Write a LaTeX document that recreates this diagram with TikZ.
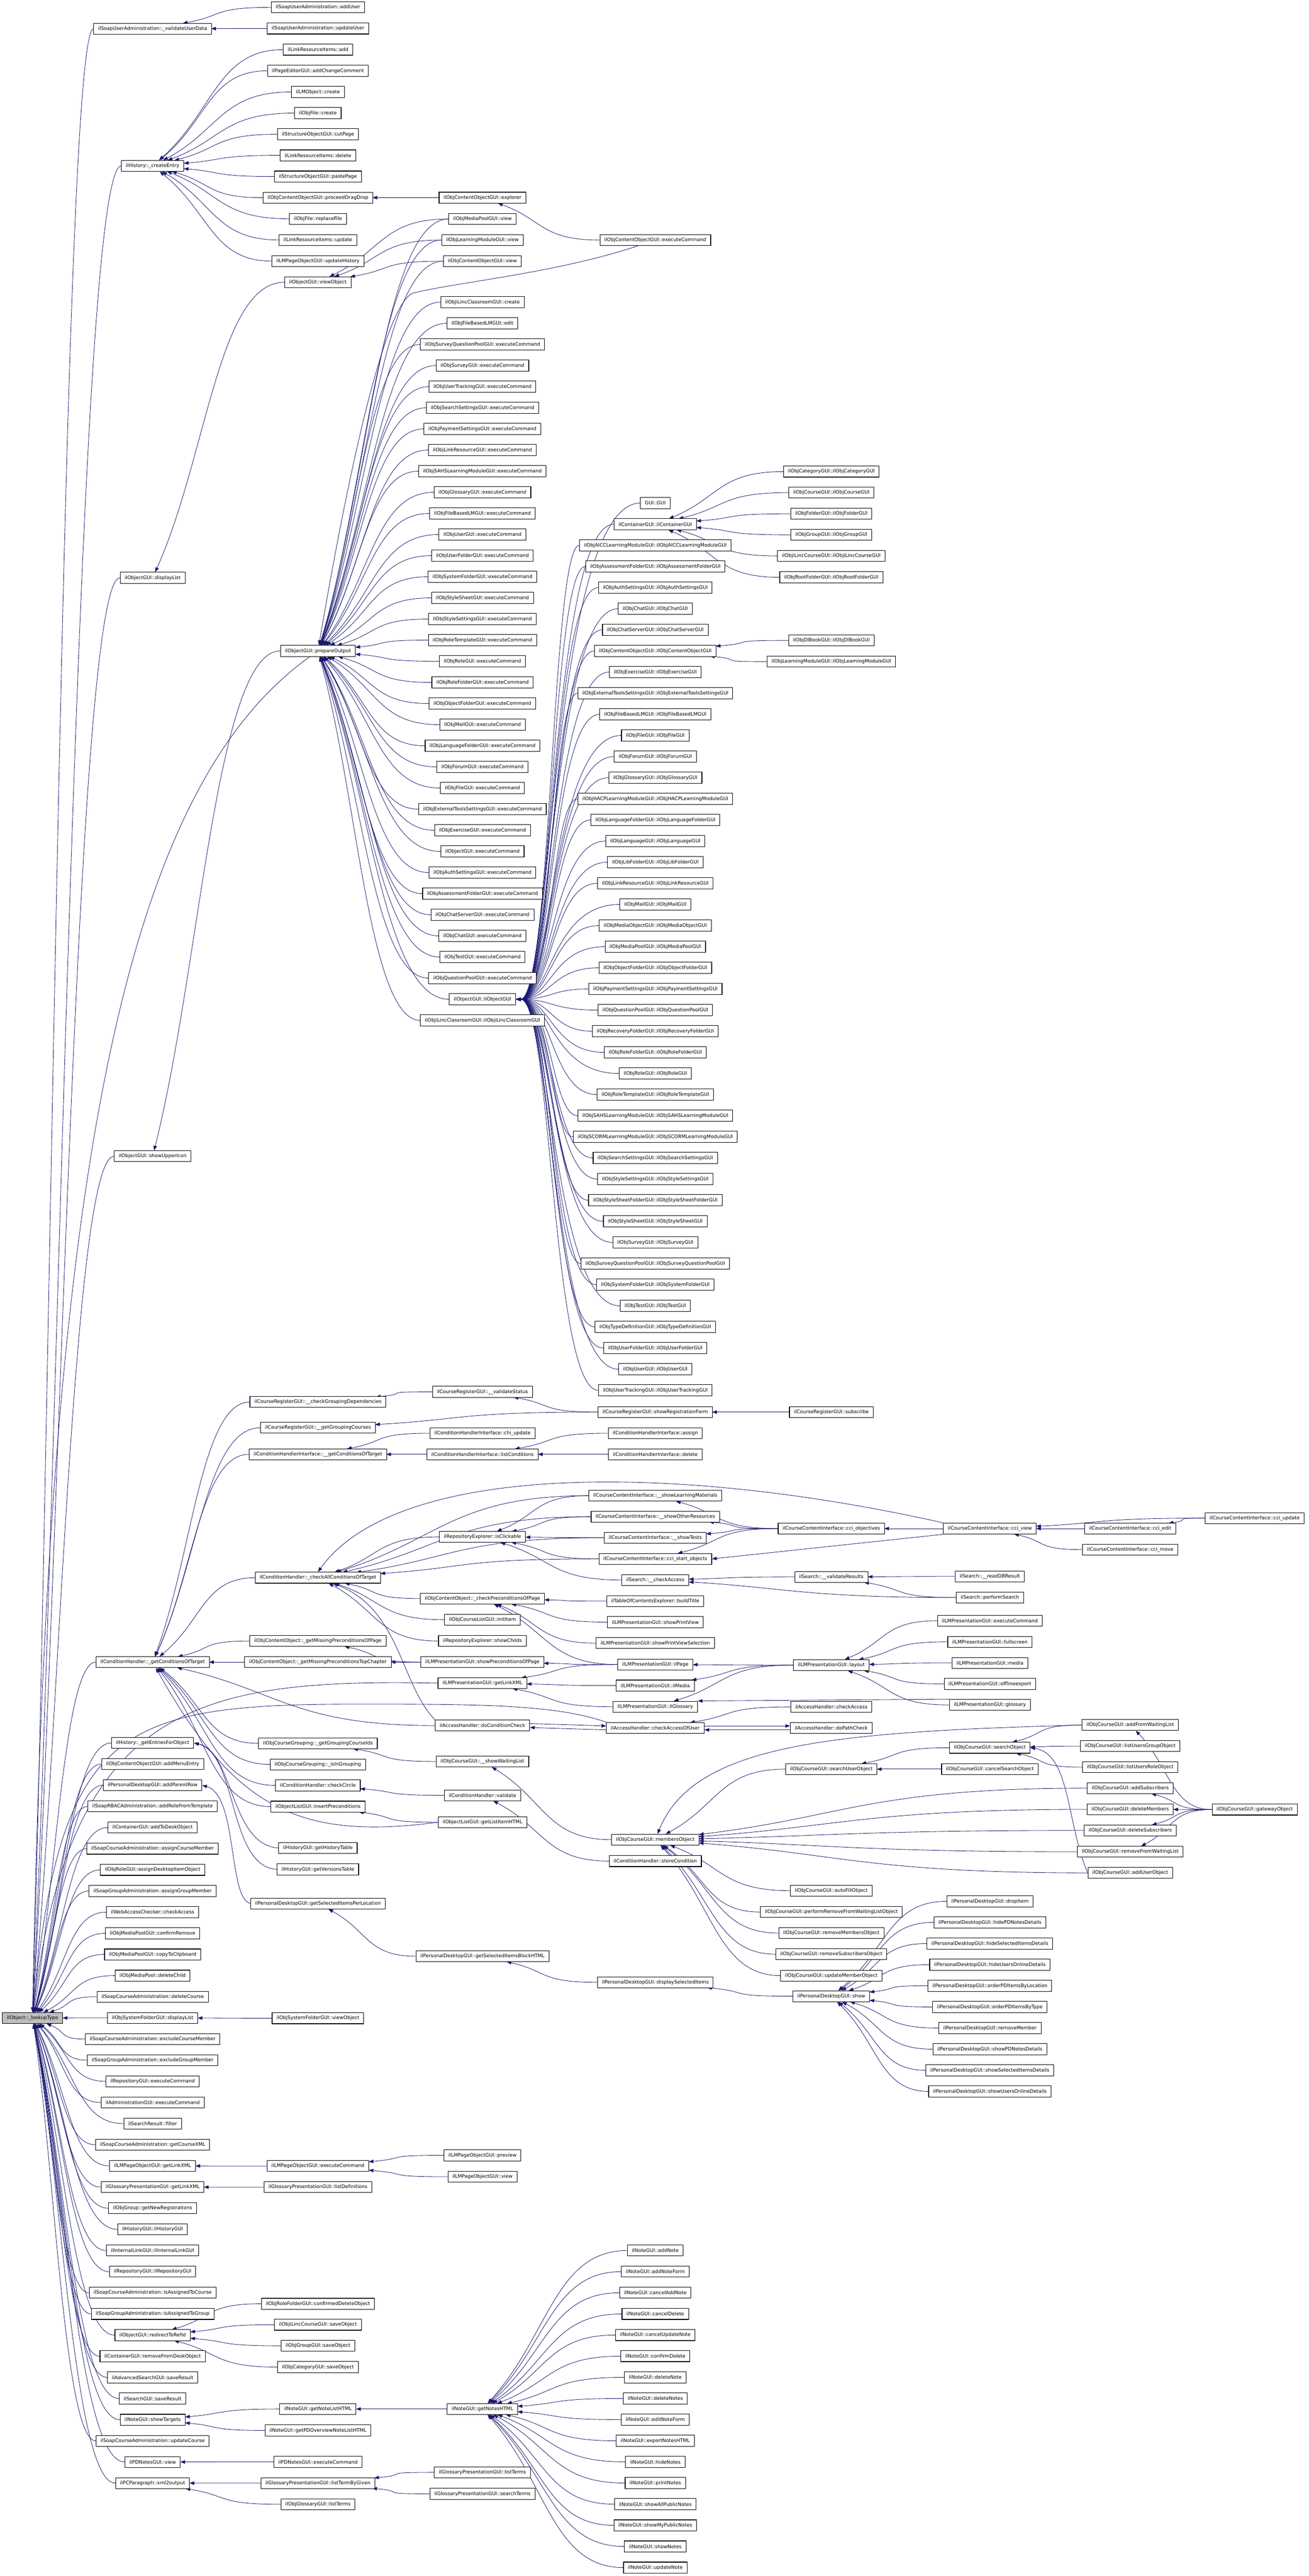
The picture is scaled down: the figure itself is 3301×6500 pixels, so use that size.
\documentclass[tikz,border=0pt]{standalone}
\usepackage{fontspec}
\setmainfont{DejaVu Sans}
\usetikzlibrary{calc,arrows.meta}
\definecolor{edgeblue}{RGB}{25,25,112}
\definecolor{rootgray}{RGB}{191,191,191}
\pgfdeclarelayer{bg}
\pgfsetlayers{bg,main}
\tikzset{
  box/.style={draw=black,fill=white,line width=0.7pt,minimum height=13.8pt,inner xsep=5.6pt,inner ysep=0pt,font=\fontsize{6.1}{7}\selectfont},
  rootbox/.style={box,fill=rootgray},
  edge/.style={draw=edgeblue,line width=0.55pt,-{Triangle[length=6pt,width=4.4pt]}}
}
% generic connector: leaves the caller's west side horizontally, reaches the callee's border heading to its centre
\newcommand\ed[2]{\draw[edge] let \p1=(#1.west),\p2=(#2.center),\p3=(#2.north east) in
  \pgfextra{%
    \pgfmathparse{atan2((\y1-\y2)/10,(\x1-\x2)/10)}\xdef\edA{\pgfmathresult}%
    \pgfmathparse{cos(\edA)}\xdef\edc{\pgfmathresult}%
    \pgfmathparse{sin(\edA)}\xdef\eds{\pgfmathresult}%
    \pgfmathparse{min((\x3-\x2)/(abs(\edc)+0.01),(\y3-\y2)/(abs(\eds)+0.01))}\xdef\edt{\pgfmathresult}%
    \pgfmathparse{\x2+\edt*\edc}\xdef\edEx{\pgfmathresult}%
    \pgfmathparse{\y2+\edt*\eds}\xdef\edEy{\pgfmathresult}%
    \pgfmathparse{\x1-max(0.5*(\x1-\x2),4)}\xdef\edPx{\pgfmathresult}%
    \pgfmathparse{0.3*(abs(\x1-\x2)+abs(\y1-\y2))}\xdef\edC{\pgfmathresult}%
    \pgfmathparse{\edEx+\edC*\edc}\xdef\edQx{\pgfmathresult}%
    \pgfmathparse{\edEy+\edC*\eds}\xdef\edQy{\pgfmathresult}%
  }
  (\p1) .. controls (\edPx pt,\y1) and (\edQx pt,\edQy pt) .. (\edEx pt,\edEy pt);}
\newcommand\edv[2]{\draw[edge] let \p1=(#1.west),\p2=(#2.east) in (\p1) .. controls (\x2+45pt,\y1) and (\x2+45pt,\y2) .. (\p2);}
\begin{document}
\begin{tikzpicture}[x=0.5pt,y=-0.5pt]
\useasboundingbox (0,0) rectangle (3301,6500);
% ---------- column A ----------
\node[rootbox] (root) at (82,5092) {ilObject::\_lookupType};
% ---------- column B ----------
\node[box] (valUD) at (385,72.5) {ilSoapUserAdministration::\_validateUserData};
\node[box] (hist) at (385,418.6) {ilHistory::\_createEntry};
\node[box] (dlist) at (385,1458) {ilObjectGUI::displayList};
\node[box] (upicon) at (385,2917.5) {ilObjectGUI::showUpperIcon};
\node[box] (gcot) at (385,4194) {ilConditionHandler::\_getConditionsOfTarget};
\foreach \lab [count=\i] in {ilHistory::\_getEntriesForObject,ilObjContentObjectGUI::addMenuEntry,ilPersonalDesktopGUI::addParentRow,ilSoapRBACAdministration::addRoleFromTemplate,ilContainerGUI::addToDeskObject,ilSoapCourseAdministration::assignCourseMember,ilObjRoleGUI::assignDesktopItemObject,ilSoapGroupAdministration::assignGroupMember,ilWebAccessChecker::checkAccess,ilObjMediaPoolGUI::confirmRemove,ilObjMediaPoolGUI::copyToClipboard,ilObjMediaPool::deleteChild,ilSoapCourseAdministration::deleteCourse,ilObjSystemFolderGUI::displayList,ilSoapCourseAdministration::excludeCourseMember,ilSoapGroupAdministration::excludeGroupMember,ilRepositoryGUI::executeCommand,ilAdministrationGUI::executeCommand,ilSearchResult::filter,ilSoapCourseAdministration::getCourseXML,ilLMPageObjectGUI::getLinkXML,ilGlossaryPresentationGUI::getLinkXML,ilObjGroup::getNewRegistrations,ilHistoryGUI::ilHistoryGUI,ilInternalLinkGUI::ilInternalLinkGUI,ilRepositoryGUI::ilRepositoryGUI,ilSoapCourseAdministration::isAssignedToCourse,ilSoapGroupAdministration::isAssignedToGroup,ilObjectGUI::redirectToRefId,ilContainerGUI::removeFromDeskObject,ilAdvancedSearchGUI::saveResult,ilSearchGUI::saveResult,ilNoteGUI::showTargets,ilSoapCourseAdministration::updateCourse,ilPDNotesGUI::view,ilPCParagraph::xml2output}
  {\node[box] (bb\i) at (385,{4398+53.36*(\i-1)}) {\lab};}
% ---------- column C ----------
\foreach \lab [count=\i from 0] in {ilSoapUserAdministration::addUser,ilSoapUserAdministration::updateUser,ilLinkResourceItems::add,ilPageEditorGUI::addChangeComment,ilLMObject::create,ilObjFile::create,ilStructureObjectGUI::cutPage,ilLinkResourceItems::delete,ilStructureObjectGUI::pastePage,ilObjContentObjectGUI::proceedDragDrop,ilObjFile::replaceFile,ilLinkResourceItems::update,ilLMPageObjectGUI::updateHistory,ilObjectGUI::viewObject}
  {\node[box] (c\i) at (802,{18.6+53.35*\i}) {\lab};}
\node[box] (prep) at (802,1642.5) {ilObjectGUI::prepareOutput};
\node[box] (cgd) at (802,3537.7) {ilCourseRegisterGUI::\_\_checkGroupingDependencies};
\node[box] (cggc) at (802,3602.6) {ilCourseRegisterGUI::\_\_getGroupingCourses};
\node[box] (chigc) at (802,3669.6) {ilConditionHandlerInterface::\_\_getConditionsOfTarget};
\node[box] (cca) at (802,3981) {ilConditionHandler::\_checkAllConditionsOfTarget};
\node[box] (cmpp) at (802,4140.7) {ilObjContentObject::\_getMissingPreconditionsOfPage};
\node[box] (cmtc) at (802,4194) {ilObjContentObject::\_getMissingPreconditionsTopChapter};
\node[box] (cgci) at (802,4399) {ilObjCourseGrouping::\_getGroupingCourseIds};
\node[box] (cisg) at (802,4452) {ilObjCourseGrouping::\_isInGrouping};
\node[box] (ccc) at (802,4505) {ilConditionHandler::checkCircle};
\node[box] (cipr) at (802,4558.5) {ilObjectListGUI::insertPreconditions};
\node[box] (cght) at (802,4663) {ilHistoryGUI::getHistoryTable};
\node[box] (cgvt) at (802,4717) {ilHistoryGUI::getVersionsTable};
\node[box] (cgsl) at (802,4803) {ilPersonalDesktopGUI::getSelectedItemsPerLocation};
\node[box] (csfv) at (802,5092.5) {ilObjSystemFolderGUI::viewObject};
\node[box] (clpe) at (802,5465.5) {ilLMPageObjectGUI::executeCommand};
\node[box] (cgld) at (802,5518.8) {ilGlossaryPresentationGUI::listDefinitions};
\node[box] (ccdo) at (802,5813) {ilObjRoleFolderGUI::confirmedDeleteObject};
\node[box] (ciso) at (802,5866) {ilObjiLincCourseGUI::saveObject};
\node[box] (cgso) at (802,5919) {ilObjGroupGUI::saveObject};
\node[box] (ccso) at (802,5972.8) {ilObjCategoryGUI::saveObject};
\node[box] (cgnl) at (802,6078.6) {ilNoteGUI::getNoteListHTML};
\node[box] (cgpd) at (802,6132.6) {ilNoteGUI::getPDOverviewNoteListHTML};
\node[box] (cpdn) at (802,6212) {ilPDNotesGUI::executeCommand};
\node[box] (cltg) at (802,6265.5) {ilGlossaryPresentationGUI::listTermByGiven};
\node[box] (cogl) at (802,6319) {ilObjGlossaryGUI::listTerms};
% ---------- column D ----------
\node[box] (dexp) at (1217,498.7) {ilObjContentObjectGUI::explorer};
\node[box] (dmpv) at (1217,552.6) {ilObjMediaPoolGUI::view};
\node[box] (dlmv) at (1217,605.7) {ilObjLearningModuleGUI::view};
\node[box] (dcov) at (1217,659) {ilObjContentObjectGUI::view};
\foreach \lab [count=\i from 0] in {ilObjiLincClassroomGUI::create,ilObjFileBasedLMGUI::edit,ilObjSurveyQuestionPoolGUI::executeCommand,ilObjSurveyGUI::executeCommand,ilObjUserTrackingGUI::executeCommand,ilObjSearchSettingsGUI::executeCommand,ilObjPaymentSettingsGUI::executeCommand,ilObjLinkResourceGUI::executeCommand,ilObjSAHSLearningModuleGUI::executeCommand,ilObjGlossaryGUI::executeCommand,ilObjFileBasedLMGUI::executeCommand,ilObjUserGUI::executeCommand,ilObjUserFolderGUI::executeCommand,ilObjSystemFolderGUI::executeCommand,ilObjStyleSheetGUI::executeCommand,ilObjStyleSettingsGUI::executeCommand,ilObjRoleTemplateGUI::executeCommand,ilObjRoleGUI::executeCommand,ilObjRoleFolderGUI::executeCommand,ilObjObjectFolderGUI::executeCommand,ilObjMailGUI::executeCommand,ilObjLanguageFolderGUI::executeCommand,ilObjForumGUI::executeCommand,ilObjFileGUI::executeCommand,ilObjExternalToolsSettingsGUI::executeCommand,ilObjExerciseGUI::executeCommand,ilObjectGUI::executeCommand,ilObjAuthSettingsGUI::executeCommand,ilObjAssessmentFolderGUI::executeCommand,ilObjChatServerGUI::executeCommand,ilObjChatGUI::executeCommand,ilObjTestGUI::executeCommand,ilObjQuestionPoolGUI::executeCommand,ilObjectGUI::ilObjectGUI,ilObjiLincClassroomGUI::ilObjiLincClassroomGUI}
  {\node[box] (dj\i) at (1217,{762.5+53.3*\i}) {\lab};}
\node[box] (dvs) at (1217,3512) {ilCourseRegisterGUI::\_\_validateStatus};
\node[box] (dchiu) at (1217,3616.5) {ilConditionHandlerInterface::chi\_update};
\node[box] (dlc) at (1217,3669.6) {ilConditionHandlerInterface::listConditions};
\node[box] (disc) at (1217,3878) {ilRepositoryExplorer::isClickable};
\node[box] (dcpp) at (1217,4033.6) {ilObjContentObject::\_checkPreconditionsOfPage};
\node[box] (dinit) at (1217,4087) {ilObjCourseListGUI::initItem};
\node[box] (dsch) at (1217,4140.7) {ilRepositoryExplorer::showChilds};
\node[box] (dspp) at (1217,4194) {ilLMPresentationGUI::showPreconditionsOfPage};
\node[box] (dglx) at (1217,4247) {ilLMPresentationGUI::getLinkXML};
\node[box] (ddcc) at (1217,4354) {ilAccessHandler::doConditionCheck};
\node[box] (dsw) at (1217,4444.6) {ilObjCourseGUI::\_\_showWaitingList};
\node[box] (dval) at (1217,4530) {ilConditionHandler::validate};
\node[box] (dglih) at (1217,4598) {ilObjectListGUI::getListItemHTML};
\node[box] (dgsib) at (1217,4936) {ilPersonalDesktopGUI::getSelectedItemsBlockHTML};
\node[box] (dlpre) at (1217,5438.5) {ilLMPageObjectGUI::preview};
\node[box] (dlview) at (1217,5492.5) {ilLMPageObjectGUI::view};
\node[box] (dgnh) at (1217,6078.6) {ilNoteGUI::getNotesHTML};
\node[box] (dglt) at (1217,6238.5) {ilGlossaryPresentationGUI::listTerms};
\node[box] (dgst) at (1217,6292.5) {ilGlossaryPresentationGUI::searchTerms};
% ---------- column E ----------
\node[box] (ecoec) at (1653,605.7) {ilObjContentObjectGUI::executeCommand};
\foreach \lab [count=\i from 0] in {GUI::GUI,ilContainerGUI::ilContainerGUI,ilObjAICCLearningModuleGUI::ilObjAICCLearningModuleGUI,ilObjAssessmentFolderGUI::ilObjAssessmentFolderGUI,ilObjAuthSettingsGUI::ilObjAuthSettingsGUI,ilObjChatGUI::ilObjChatGUI,ilObjChatServerGUI::ilObjChatServerGUI,ilObjContentObjectGUI::ilObjContentObjectGUI,ilObjExerciseGUI::ilObjExerciseGUI,ilObjExternalToolsSettingsGUI::ilObjExternalToolsSettingsGUI,ilObjFileBasedLMGUI::ilObjFileBasedLMGUI,ilObjFileGUI::ilObjFileGUI,ilObjForumGUI::ilObjForumGUI,ilObjGlossaryGUI::ilObjGlossaryGUI,ilObjHACPLearningModuleGUI::ilObjHACPLearningModuleGUI,ilObjLanguageFolderGUI::ilObjLanguageFolderGUI,ilObjLanguageGUI::ilObjLanguageGUI,ilObjLibFolderGUI::ilObjLibFolderGUI,ilObjLinkResourceGUI::ilObjLinkResourceGUI,ilObjMailGUI::ilObjMailGUI,ilObjMediaObjectGUI::ilObjMediaObjectGUI,ilObjMediaPoolGUI::ilObjMediaPoolGUI,ilObjObjectFolderGUI::ilObjObjectFolderGUI,ilObjPaymentSettingsGUI::ilObjPaymentSettingsGUI,ilObjQuestionPoolGUI::ilObjQuestionPoolGUI,ilObjRecoveryFolderGUI::ilObjRecoveryFolderGUI,ilObjRoleFolderGUI::ilObjRoleFolderGUI,ilObjRoleGUI::ilObjRoleGUI,ilObjRoleTemplateGUI::ilObjRoleTemplateGUI,ilObjSAHSLearningModuleGUI::ilObjSAHSLearningModuleGUI,ilObjSCORMLearningModuleGUI::ilObjSCORMLearningModuleGUI,ilObjSearchSettingsGUI::ilObjSearchSettingsGUI,ilObjStyleSettingsGUI::ilObjStyleSettingsGUI,ilObjStyleSheetFolderGUI::ilObjStyleSheetFolderGUI,ilObjStyleSheetGUI::ilObjStyleSheetGUI,ilObjSurveyGUI::ilObjSurveyGUI,ilObjSurveyQuestionPoolGUI::ilObjSurveyQuestionPoolGUI,ilObjSystemFolderGUI::ilObjSystemFolderGUI,ilObjTestGUI::ilObjTestGUI,ilObjTypeDefinitionGUI::ilObjTypeDefinitionGUI,ilObjUserFolderGUI::ilObjUserFolderGUI,ilObjUserGUI::ilObjUserGUI,ilObjUserTrackingGUI::ilObjUserTrackingGUI}
  {\node[box] (e\i) at (1653,{1269.5+53.3*\i}) {\lab};}
\node[box] (esrf) at (1653,3563) {ilCourseRegisterGUI::showRegistrationForm};
\node[box] (easg) at (1653,3616.5) {ilConditionHandlerInterface::assign};
\node[box] (edel) at (1653,3669.6) {ilConditionHandlerInterface::delete};
\node[box] (eslm) at (1653,3774) {ilCourseContentInterface::\_\_showLearningMaterials};
\node[box] (esor) at (1653,3827) {ilCourseContentInterface::\_\_showOtherResources};
\node[box] (est) at (1653,3880) {ilCourseContentInterface::\_\_showTests};
\node[box] (ecso) at (1653,3933.5) {ilCourseContentInterface::cci\_start\_objects};
\node[box] (esca) at (1653,3986.7) {ilSearch::\_\_checkAccess};
\node[box] (ebt) at (1653,4040) {ilTableOfContentsExplorer::buildTitle};
\node[box] (espv) at (1653,4093) {ilLMPresentationGUI::showPrintView};
\node[box] (espvs) at (1653,4146) {ilLMPresentationGUI::showPrintViewSelection};
\node[box] (eilp) at (1653,4200) {ilLMPresentationGUI::ilPage};
\node[box] (eilm) at (1653,4253) {ilLMPresentationGUI::ilMedia};
\node[box] (eilg) at (1653,4306.5) {ilLMPresentationGUI::ilGlossary};
\node[box] (ecau) at (1653,4360) {ilAccessHandler::checkAccessOfUser};
\node[box] (emo) at (1653,4642) {ilObjCourseGUI::membersObject};
\node[box] (esc) at (1653,4696) {ilConditionHandler::storeCondition};
\node[box] (edsi) at (1653,5002) {ilPersonalDesktopGUI::displaySelectedItems};
\foreach \lab [count=\i] in {addNote,addNoteForm,cancelAddNote,cancelDelete,cancelUpdateNote,confirmDelete,deleteNote,deleteNotes,editNoteForm,exportNotesHTML,hideNotes,printNotes,showAllPublicNotes,showMyPublicNotes,showNotes,updateNote}
  {\node[box] (en\i) at (1653,{5678.7+53.33*(\i-1)}) {ilNoteGUI::\lab};}
% ---------- column F ----------
\node[box] (f1) at (2097,1190) {ilObjCategoryGUI::ilObjCategoryGUI};
\node[box] (f2) at (2097,1243) {ilObjCourseGUI::ilObjCourseGUI};
\node[box] (f3) at (2097,1296.4) {ilObjFolderGUI::ilObjFolderGUI};
\node[box] (f4) at (2097,1349.6) {ilObjGroupGUI::ilObjGroupGUI};
\node[box] (f5) at (2097,1402.8) {ilObjiLincCourseGUI::ilObjiLincCourseGUI};
\node[box] (f6) at (2097,1456.7) {ilObjRootFolderGUI::ilObjRootFolderGUI};
\node[box] (f7) at (2097,1616) {ilObjDlBookGUI::ilObjDlBookGUI};
\node[box] (f8) at (2097,1669.4) {ilObjLearningModuleGUI::ilObjLearningModuleGUI};
\node[box] (fsub) at (2097,3563) {ilCourseRegisterGUI::subscribe};
\node[box] (fcob) at (2097,3857) {ilCourseContentInterface::cci\_objectives};
\node[box] (fvr) at (2097,3979) {ilSearch::\_\_validateResults};
\node[box] (flay) at (2097,4201.5) {ilLMPresentationGUI::layout};
\node[box] (fca) at (2097,4307) {ilAccessHandler::checkAccess};
\node[box] (fdpc) at (2097,4360) {ilAccessHandler::doPathCheck};
\node[box] (fsuo) at (2097,4464) {ilObjCourseGUI::searchUserObject};
\node[box] (faf) at (2097,4770.6) {ilObjCourseGUI::autoFillObject};
\node[box] (fprw) at (2097,4824.5) {ilObjCourseGUI::performRemoveFromWaitingListObject};
\node[box] (frmo) at (2097,4877.6) {ilObjCourseGUI::removeMembersObject};
\node[box] (frso) at (2097,4931) {ilObjCourseGUI::removeSubscribersObject};
\node[box] (fumo) at (2097,4985) {ilObjCourseGUI::updateMemberObject};
\node[box] (fshow) at (2097,5037) {ilPersonalDesktopGUI::show};
% ---------- column G ----------
\node[box] (gview) at (2497,3857) {ilCourseContentInterface::cci\_view};
\node[box] (grdb) at (2497,3977.7) {ilSearch::\_\_readDBResult};
\node[box] (gps) at (2497,4031) {ilSearch::performSearch};
\node[box] (gec) at (2497,4089.6) {ilLMPresentationGUI::executeCommand};
\node[box] (gfs) at (2497,4142.8) {ilLMPresentationGUI::fullscreen};
\node[box] (gmed) at (2497,4196) {ilLMPresentationGUI::media};
\node[box] (goff) at (2497,4249) {ilLMPresentationGUI::offlineexport};
\node[box] (gglo) at (2497,4302) {ilLMPresentationGUI::glossary};
\node[box] (gso) at (2497,4410) {ilObjCourseGUI::searchObject};
\node[box] (gcso) at (2497,4464) {ilObjCourseGUI::cancelSearchObject};
\foreach \lab [count=\i] in {dropItem,hidePDNotesDetails,hideSelectedItemsDetails,hideUsersOnlineDetails,orderPDItemsByLocation,orderPDItemsByType,removeMember,showPDNotesDetails,showSelectedItemsDetails,showUsersOnlineDetails}
  {\node[box] (gp\i) at (2497,{4797.5+53.3*(\i-1)}) {ilPersonalDesktopGUI::\lab};}
% ---------- column H ----------
\node[box] (hedit) at (2851,3857) {ilCourseContentInterface::cci\_edit};
\node[box] (hmove) at (2851,3910) {ilCourseContentInterface::cci\_move};
\node[box] (hafw) at (2851,4352.7) {ilObjCourseGUI::addFromWaitingList};
\node[box] (hlug) at (2851,4406) {ilObjCourseGUI::listUsersGroupObject};
\node[box] (hlur) at (2851,4459) {ilObjCourseGUI::listUsersRoleObject};
\node[box] (has) at (2851,4512) {ilObjCourseGUI::addSubscribers};
\node[box] (hdm) at (2851,4565.5) {ilObjCourseGUI::deleteMembers};
\node[box] (hds) at (2851,4618.6) {ilObjCourseGUI::deleteSubscribers};
\node[box] (hrfw) at (2851,4672.5) {ilObjCourseGUI::removeFromWaitingList};
\node[box] (hauo) at (2851,4725.7) {ilObjCourseGUI::addUserObject};
% ---------- column I ----------
\node[box] (iupd) at (3165,3830.6) {ilCourseContentInterface::cci\_update};
\node[box] (igw) at (3165,4566) {ilObjCourseGUI::gatewayObject};
% ================= edges =================
\begin{pgfonlayer}{bg}
\ed{c0}{valUD} \ed{c1}{valUD}
\foreach \i in {2,...,12} {\ed{c\i}{hist}}
\ed{dexp}{c9} \ed{ecoec}{dexp}
\ed{dmpv}{c13} \ed{dlmv}{c13} \ed{dcov}{c13}
\ed{c13}{dlist}
\ed{dmpv}{prep} \ed{dlmv}{prep} \ed{dcov}{prep}
\draw[edge] (ecoec) .. controls (1400,690) and (1150,712) .. (1040,740) .. controls (960,780) and (860,1300) .. (prep);
\foreach \i in {0,...,34} {\ed{dj\i}{prep}}
\ed{prep}{upicon}
\draw[edge] (prep) .. controls (300,2000) and (120,3000) .. (root);
\ed{valUD}{root} \ed{hist}{root} \ed{dlist}{root} \ed{upicon}{root} \ed{gcot}{root}
\foreach \i in {0,...,42} {\edv{e\i}{dj33}}
\foreach \i in {1,...,6} {\ed{f\i}{e1}}
\ed{f7}{e7} \ed{f8}{e7}
% course register / conditions
\ed{cgd}{gcot} \ed{cggc}{gcot} \ed{chigc}{gcot} \ed{cca}{gcot} \ed{cmpp}{gcot} \ed{cmtc}{gcot}
\ed{dvs}{cgd} \ed{esrf}{dvs} \ed{esrf}{cggc} \ed{fsub}{esrf}
\ed{dchiu}{chigc} \ed{dlc}{chigc} \ed{easg}{dlc} \ed{edel}{dlc}
\draw[edge] (gview.north west) .. controls (1700,3690) and (1000,3690) .. (cca.north);
\ed{eslm}{cca} \ed{esor}{cca} \ed{disc}{cca} \ed{est}{cca} \ed{ecso}{cca}
\ed{dcpp}{cca} \ed{dinit}{cca} \ed{dsch}{cca}
\draw[edge] (ddcc.north west) .. controls (1010,4250) and (1010,4060) .. (cca);
\ed{ddcc}{gcot}
\ed{eslm}{disc} \ed{esor}{disc} \ed{est}{disc} \ed{ecso}{disc} \ed{esca}{disc}
\ed{ebt}{dcpp} \ed{espv}{dcpp} \ed{espvs}{dcpp} \ed{eilp}{dcpp}
\ed{dspp}{cmpp} \ed{dspp}{cmtc} \ed{eilp}{dspp}
\ed{eilp}{dglx} \ed{eilm}{dglx} \ed{eilg}{dglx}
\draw[edge] (dglx.west) .. controls (500,4235) and (175,4300) .. (root);
\ed{fcob}{eslm} \ed{fcob}{esor} \ed{fcob}{est} \ed{fcob}{ecso}
\ed{gview}{fcob}
\draw[edge] (gview.south west) -- (ecso.east);
\ed{hedit}{gview} \ed{hmove}{gview} \ed{iupd}{gview} \ed{iupd}{hedit}
\ed{fvr}{esca} \ed{gps}{esca} \ed{grdb}{fvr} \ed{gps}{fvr}
\ed{flay}{eilp} \ed{flay}{eilm} \ed{flay}{eilg}
\ed{gec}{flay} \ed{gfs}{flay} \ed{gmed}{flay} \ed{goff}{flay} \ed{gglo}{flay}
\draw[edge] (gglo.north west) -- (eilg.north east);
\ed{fca}{ecau}
\draw[edge] ([yshift=2.5pt]ddcc.east) -- ([yshift=2.5pt]ecau.west);
\draw[edge] ([yshift=-2.5pt]ecau.west) -- ([yshift=-2.5pt]ddcc.east);
\draw[edge] ([yshift=2.5pt]ecau.east) -- ([yshift=2.5pt]fdpc.west);
\draw[edge] ([yshift=-2.5pt]fdpc.west) -- ([yshift=-2.5pt]ecau.east);
\draw[edge] (ecau.north west) .. controls (1400,4300) and (1200,4300) .. (900,4300) .. controls (300,4300) and (150,4360) .. (root);
% grouping / course
\ed{cgci}{gcot} \ed{cisg}{gcot} \ed{ccc}{gcot} \ed{cipr}{gcot}
\draw[edge] (dglih.west) .. controls (750,4645) and (590,4560) .. (gcot);
\ed{dsw}{cgci} \ed{emo}{dsw}
\ed{dval}{ccc} \ed{esc}{dval}
\ed{dglih}{cipr}
\draw[edge] (cght.west) .. controls (580,4655) and (590,4420) .. (bb1.east);
\draw[edge] (cgvt.west) .. controls (575,4710) and (600,4425) .. (bb1.east);
\draw[edge] (cgsl.west) .. controls (575,4790) and (600,4530) .. (bb3.east);
\ed{dgsib}{cgsl} \ed{edsi}{dgsib} \ed{fshow}{edsi}
\foreach \i in {1,...,10} {\ed{gp\i}{fshow}}
\ed{fsuo}{emo}
\draw[edge] (hafw.west) .. controls (2100,4370) and (1750,4400) .. (emo);
\ed{has}{emo} \ed{hdm}{emo} \ed{hds}{emo} \ed{hrfw}{emo} \ed{hauo}{emo}
\ed{faf}{emo} \ed{fprw}{emo} \ed{frmo}{emo} \ed{frso}{emo} \ed{fumo}{emo}
\ed{gso}{fsuo} \ed{gcso}{fsuo}
\ed{hafw}{gso} \ed{hlug}{gso} \ed{hlur}{gso}
\draw[edge] (hauo.west) .. controls (2690,4600) and (2700,4425) .. (gso.east);
\ed{igw}{hafw} \ed{igw}{has} \ed{igw}{hdm} \ed{igw}{hds} \ed{igw}{hrfw}
% lower part
\ed{csfv}{bb14}
\ed{clpe}{bb21} \ed{dlpre}{clpe} \ed{dlview}{clpe}
\ed{cgld}{bb22}
\ed{ccdo}{bb29} \ed{ciso}{bb29} \ed{cgso}{bb29} \ed{ccso}{bb29}
\ed{cgnl}{bb33} \ed{cgpd}{bb33} \ed{dgnh}{cgnl}
\foreach \i in {1,...,16} {\ed{en\i}{dgnh}}
\ed{cpdn}{bb35}
\ed{cltg}{bb36} \ed{cogl}{bb36} \ed{dglt}{cltg} \ed{dgst}{cltg}
\foreach \i in {1,...,36} {\ed{bb\i}{root}}
\end{pgfonlayer}
\end{tikzpicture}
\end{document}
